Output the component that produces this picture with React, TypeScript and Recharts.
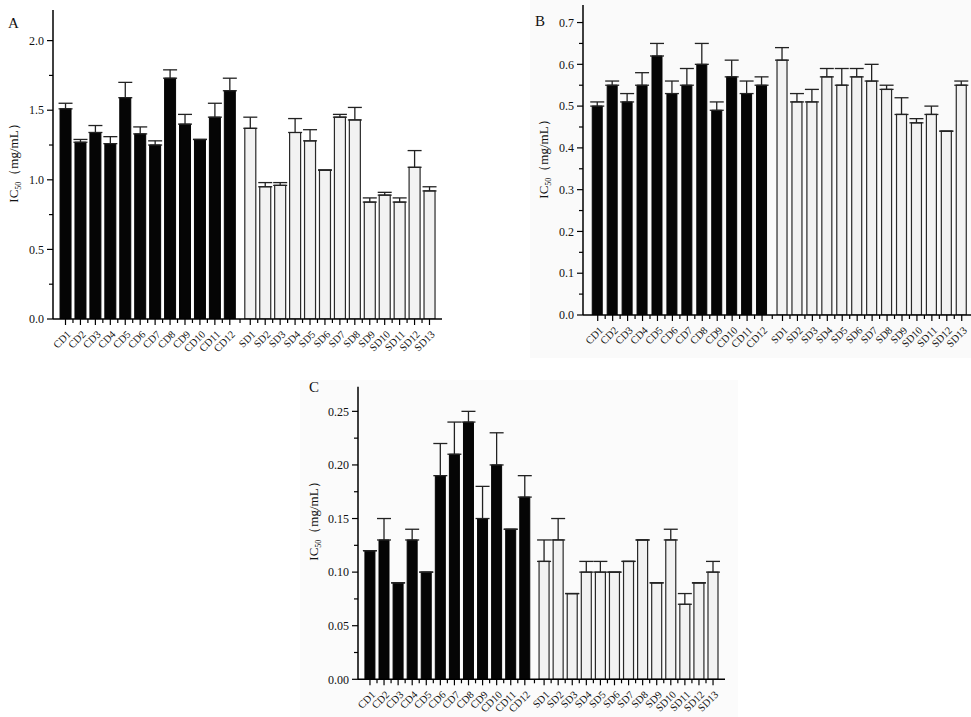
import React from 'react';
import { BarChart, Bar, XAxis, YAxis, ErrorBar, Cell } from 'recharts';

const CATEGORIES = ['CD1','CD2','CD3','CD4','CD5','CD6','CD7','CD8','CD9','CD10','CD11','CD12',
  'SD1','SD2','SD3','SD4','SD5','SD6','SD7','SD8','SD9','SD10','SD11','SD12','SD13'];

const A_VALUES = [1.51,1.27,1.34,1.26,1.59,1.33,1.25,1.73,1.40,1.29,1.45,1.64,
  1.37,0.95,0.96,1.34,1.28,1.07,1.45,1.43,0.84,0.89,0.84,1.09,0.92];
const A_ERRORS = [0.04,0.02,0.05,0.05,0.11,0.05,0.03,0.06,0.07,0,0.10,0.09,
  0.08,0.03,0.02,0.10,0.08,0,0.02,0.09,0.03,0.02,0.03,0.12,0.03];

const B_VALUES = [0.50,0.55,0.51,0.55,0.62,0.53,0.55,0.60,0.49,0.57,0.53,0.55,
  0.61,0.51,0.51,0.57,0.55,0.57,0.56,0.54,0.48,0.46,0.48,0.44,0.55];
const B_ERRORS = [0.01,0.01,0.02,0.03,0.03,0.03,0.04,0.05,0.02,0.04,0.03,0.02,
  0.03,0.02,0.03,0.02,0.04,0.02,0.04,0.01,0.04,0.01,0.02,0,0.01];

const C_VALUES = [0.12,0.13,0.09,0.13,0.10,0.19,0.21,0.24,0.15,0.20,0.14,0.17,
  0.11,0.13,0.08,0.10,0.10,0.10,0.11,0.13,0.09,0.13,0.07,0.09,0.10];
const C_ERRORS = [0,0.02,0,0.01,0,0.03,0.03,0.01,0.03,0.03,0,0.02,
  0.02,0.02,0,0.01,0.01,0,0,0,0,0.01,0.01,0,0.01];

const A_Y_TICKS = [0, 0.5, 1.0, 1.5, 2.0];
const B_Y_TICKS = [0, 0.1, 0.2, 0.3, 0.4, 0.5, 0.6, 0.7];
const C_Y_TICKS = [0, 0.05, 0.10, 0.15, 0.20, 0.25];

const SERIF = '"Liberation Serif", "Times New Roman", serif';
const GROUP_GAP = 0.37;

const positions = CATEGORIES.map((c, i) => (c.startsWith('SD') ? i + GROUP_GAP : i));

function withMinors(majors: number[]) {
  const out: number[] = [];
  majors.forEach((m, i) => {
    out.push(m);
    if (i < majors.length - 1) out.push((m + majors[i + 1]) / 2);
  });
  return out;
}

function xTickPositions() {
  const out: number[] = [];
  positions.forEach((p, i) => {
    out.push(p);
    if (i < positions.length - 1) out.push((p + positions[i + 1]) / 2);
  });
  return out;
}

function makeYTick(majors: number[], decimals: number) {
  return (props: any) => {
    const { x, y, payload } = props;
    const major = majors.some((m) => Math.abs(m - payload.value) < 1e-9);
    return (
      <g>
        <line x1={x - (major ? 6 : 4)} x2={x} y1={y} y2={y} stroke="#000" strokeWidth={1.2} />
        {major && (
          <text x={x - 9} y={y} dy="0.35em" textAnchor="end" fontSize={12} fontFamily={SERIF} fill="#111">
            {payload.value.toFixed(decimals)}
          </text>
        )}
      </g>
    );
  };
}

function XTick(props: any) {
  const { x, y, payload } = props;
  const idx = positions.findIndex((p) => Math.abs(p - payload.value) < 1e-6);
  const major = idx >= 0;
  return (
    <g>
      <line x1={x} x2={x} y1={y} y2={y + (major ? 6 : 4)} stroke="#000" strokeWidth={1.2} />
      {major && (
        <text
          transform={`translate(${x + 6},${y + 16}) rotate(-45)`}
          textAnchor="end"
          fontSize={10.5}
          fontFamily={SERIF}
          fill="#111"
        >
          {CATEGORIES[idx]}
        </text>
      )}
    </g>
  );
}

type PanelProps = {
  left: number; top: number; width: number; height: number;
  margin: { top: number; right: number; bottom: number; left: number };
  xAxisHeight: number;
  values: number[]; errors: number[];
  yMax: number; yMajors: number[]; decimals: number;
  xDomain: [number, number]; barSize: number;
};

function Panel(p: PanelProps) {
  const data = CATEGORIES.map((name, i) => ({
    name,
    pos: positions[i],
    value: p.values[i],
    err: [0, p.errors[i]],
  }));
  return (
    <div style={{ position: 'absolute', left: p.left, top: p.top }}>
      <BarChart width={p.width} height={p.height} data={data} margin={p.margin}>
        <XAxis
          type="number"
          dataKey="pos"
          domain={p.xDomain}
          allowDataOverflow
          ticks={xTickPositions()}
          interval={0}
          tickSize={0}
          tickMargin={0}
          tickLine={false}
          tick={XTick}
          height={p.xAxisHeight}
          axisLine={{ stroke: '#000', strokeWidth: 1.5 }}
        />
        <YAxis
          type="number"
          domain={[0, p.yMax]}
          allowDataOverflow
          ticks={withMinors(p.yMajors)}
          interval={0}
          tickSize={0}
          tickMargin={0}
          tickLine={false}
          tick={makeYTick(p.yMajors, p.decimals)}
          width={40}
          axisLine={{ stroke: '#000', strokeWidth: 1.5 }}
        />
        <Bar dataKey="value" barSize={p.barSize} isAnimationActive={false}>
          {data.map((d, i) =>
            d.name.startsWith('CD') ? (
              <Cell key={i} fill="#050505" stroke="#050505" strokeWidth={1} />
            ) : (
              <Cell key={i} fill="#f2f2f2" stroke="#2a2a2a" strokeWidth={1.2} />
            )
          )}
          <ErrorBar dataKey="err" direction="y" width={7} stroke="#222" strokeWidth={1.3} />
        </Bar>
      </BarChart>
    </div>
  );
}

function YLabel({ x, y }: { x: number; y: number }) {
  return (
    <text transform={`translate(${x},${y}) rotate(-90)`} textAnchor="middle" fontSize={13} fontFamily={SERIF} fill="#111">
      IC<tspan fontSize={8} dy={3}>50</tspan>
      <tspan dy={-3}>（mg/mL）</tspan>
    </text>
  );
}

export default function App() {
  return (
    <div style={{ position: 'absolute', left: 0, top: 0, width: 971, height: 717, background: '#fff', overflow: 'hidden' }}>
      <div style={{ position: 'absolute', left: 530, top: 0, width: 441, height: 358, background: '#fafafa' }} />
      <div style={{ position: 'absolute', left: 300, top: 380, width: 438, height: 337, background: '#fbfbfb' }} />
      <Panel
        left={0} top={0} width={460} height={360}
        margin={{ top: 10, right: 18, bottom: 1, left: 13 }}
        xAxisHeight={40}
        values={A_VALUES} errors={A_ERRORS}
        yMax={2.22} yMajors={A_Y_TICKS} decimals={1}
        xDomain={[-0.837, 24.37 + 0.837]} barSize={11}
      />
      <Panel
        left={530} top={0} width={441} height={360}
        margin={{ top: 5, right: 0, bottom: 5, left: 13 }}
        xAxisHeight={40}
        values={B_VALUES} errors={B_ERRORS}
        yMax={0.742} yMajors={B_Y_TICKS} decimals={1}
        xDomain={[-0.985, 24.99]} barSize={10}
      />
      <Panel
        left={300} top={375} width={440} height={342}
        margin={{ top: 11.7, right: 15, bottom: 1.7, left: 18 }}
        xAxisHeight={36}
        values={C_VALUES} errors={C_ERRORS}
        yMax={0.273} yMajors={C_Y_TICKS} decimals={2}
        xDomain={[-0.85, 24.37 + 0.85]} barSize={10}
      />
      <svg width={971} height={717} style={{ position: 'absolute', left: 0, top: 0, pointerEvents: 'none' }}>
        <text x={8} y={28} fontSize={15} fontFamily={SERIF} fill="#111">A</text>
        <text x={535} y={26} fontSize={15} fontFamily={SERIF} fill="#111">B</text>
        <text x={309} y={392} fontSize={15} fontFamily={SERIF} fill="#111">C</text>
        <YLabel x={18} y={160} />
        <YLabel x={548} y={156} />
        <YLabel x={318} y={518} />
      </svg>
    </div>
  );
}
